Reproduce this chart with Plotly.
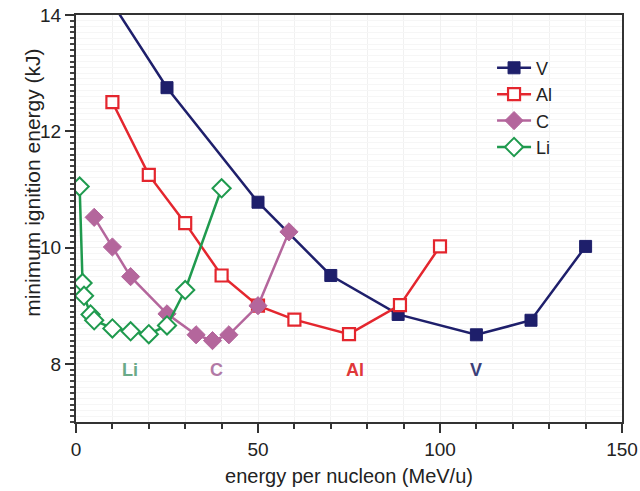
import plotly.graph_objects as go

# ---- data ----
v_x = [10, 25, 50, 70, 88.5, 110, 125, 140]
v_y = [14.2, 12.75, 10.78, 9.52, 8.85, 8.5, 8.75, 10.02]

al_x = [10, 20, 30, 40, 50, 60, 75, 89, 100]
al_y = [12.5, 11.25, 10.42, 9.52, 9.0, 8.76, 8.51, 9.01, 10.02]

c_x = [5, 10, 15, 25, 33, 37.5, 42, 50, 58.5]
c_y = [10.52, 10.01, 9.5, 8.86, 8.5, 8.4, 8.5, 9.0, 10.27]

li_x = [1, 1.8, 2.2, 4, 5, 10, 15, 20, 25, 30, 40]
li_y = [11.05, 9.39, 9.17, 8.85, 8.75, 8.61, 8.56, 8.51, 8.66, 9.27, 11.02]

series_names = ["V", "Al", "C", "Li"]
label_x = [110, 76.7, 38.5, 14.8]
label_y = [7.9, 7.9, 7.9, 7.9]

x_tickvals = [0, 50, 100, 150]
y_tickvals = [8, 10, 12, 14]
x_range = [0, 150]
y_range = [7, 14]

# ---- styling ----
FONT = "Liberation Sans, Arial, sans-serif"
c_v = "#1e1f6b"
c_al = "#e4262e"
c_c = "#b4669c"
c_li = "#1f9a4e"
label_colors = ["#3b4079", "#e0383a", "#b27aa6", "#6aaa88"]
AX = "#333333"

fig = go.Figure()

fig.add_trace(go.Scatter(
    x=v_x, y=v_y, name="V", mode="lines+markers",
    line=dict(color=c_v, width=2.5),
    marker=dict(symbol="square", size=12, color=c_v, line=dict(color=c_v, width=1)),
))
fig.add_trace(go.Scatter(
    x=al_x, y=al_y, name="Al", mode="lines+markers",
    line=dict(color=c_al, width=2.5),
    marker=dict(symbol="square", size=12, color="white", line=dict(color=c_al, width=2.2)),
))
fig.add_trace(go.Scatter(
    x=c_x, y=c_y, name="C", mode="lines+markers",
    line=dict(color=c_c, width=2.5),
    marker=dict(symbol="diamond", size=14, color=c_c, line=dict(color=c_c, width=1)),
))
fig.add_trace(go.Scatter(
    x=li_x, y=li_y, name="Li", mode="lines+markers",
    line=dict(color=c_li, width=2.5),
    marker=dict(symbol="diamond", size=14, color="white", line=dict(color=c_li, width=2)),
))

for name, lx, ly, col in zip(series_names, label_x, label_y, label_colors):
    fig.add_annotation(x=lx, y=ly, text=f"<b>{name}</b>", showarrow=False,
                       font=dict(family=FONT, size=18, color=col))

# y-axis title (placed as in the reference, above the axis centre)
fig.add_annotation(xref="paper", yref="paper", x=-0.081, y=0.587,
                   xanchor="center", yanchor="middle",
                   text="minimum ignition energy (kJ)", textangle=-90,
                   showarrow=False, font=dict(family=FONT, size=21, color="#222222"))

fig.update_layout(
    width=640, height=491,
    margin=dict(l=76, r=18, t=15, b=69, autoexpand=False),
    paper_bgcolor="white", plot_bgcolor="white",
    font=dict(family=FONT, size=19, color="#222222"),
    showlegend=True,
    legend=dict(x=0.762, y=0.915, xanchor="left", yanchor="top",
                bgcolor="rgba(0,0,0,0)", font=dict(family=FONT, size=18),
                tracegroupgap=0, itemwidth=34),
    xaxis2=dict(overlaying="x", anchor="y", side="top", range=x_range,
                tickvals=x_tickvals, showticklabels=False,
                ticks="inside", ticklen=8, tickwidth=1.5, tickcolor=AX,
                minor=dict(dtick=10, ticks="inside", ticklen=5, tickcolor=AX),
                showgrid=False, zeroline=False, showline=False, automargin=False),
    yaxis2=dict(overlaying="y", anchor="x", side="right", range=y_range,
                tickvals=y_tickvals, showticklabels=False,
                ticks="inside", ticklen=8, tickwidth=1.5, tickcolor=AX,
                minor=dict(dtick=0.1, ticks="inside", ticklen=4, tickcolor=AX),
                showgrid=False, zeroline=False, showline=False, automargin=False),
)

fig.layout.xaxis.update(
    range=x_range, automargin=False,
    tickvals=x_tickvals, ticktext=[str(v) for v in x_tickvals],
    ticks="outside", ticklen=9, tickwidth=1.5, tickcolor=AX,
    minor=dict(dtick=10, ticks="outside", ticklen=5, tickcolor=AX,
               showgrid=True, gridcolor="#f1f1f1", gridwidth=1),
    showgrid=True, gridcolor="#f1f1f1",
    showline=True, linecolor=AX, linewidth=2, mirror=True,
    zeroline=False,
    title=dict(text="energy per nucleon (MeV/u)", font=dict(size=20), standoff=10),
    tickfont=dict(size=19),
)

fig.layout.yaxis.update(
    range=y_range, automargin=False,
    tickvals=y_tickvals, ticktext=[str(v) for v in y_tickvals],
    ticks="outside", ticklen=9, tickwidth=1.5, tickcolor=AX,
    minor=dict(dtick=0.1, ticks="outside", ticklen=4, tickcolor="#444",
               showgrid=True, gridcolor="#f6f6f6", gridwidth=1),
    showgrid=True, gridcolor="#f1f1f1",
    showline=True, linecolor=AX, linewidth=2, mirror=True,
    zeroline=False,
    tickfont=dict(size=19),
)

fig.write_html("out.html", config={"displayModeBar": False},
               post_script="document.body.style.margin='0px';document.body.style.overflow='hidden';")
